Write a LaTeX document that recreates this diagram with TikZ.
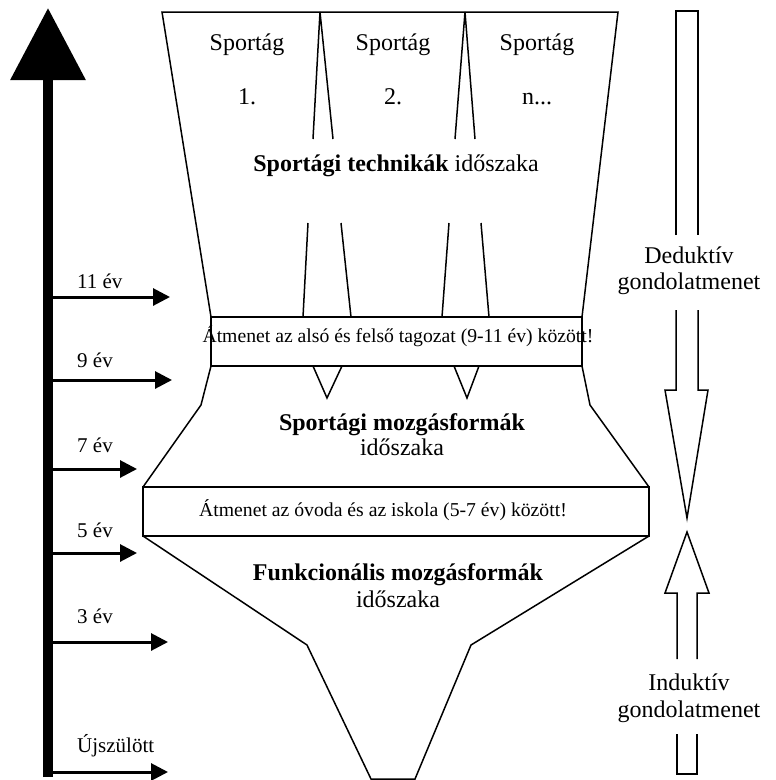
\documentclass[tikz,border=0pt]{standalone}
\usepackage{fontspec}
\setmainfont{Liberation Serif}
\usetikzlibrary{arrows.meta}

\begin{document}
\begin{tikzpicture}[x=1pt,y=-1pt,
  outline/.style={line width=1.5pt, line join=miter},
  bigtxt/.style={font=\fontsize{24}{26}\selectfont, inner sep=0pt, anchor=base},
  boxtxt/.style={font=\fontsize{19.7}{22}\selectfont, inner sep=0pt, anchor=base},
  agetxt/.style={font=\fontsize{21}{23}\selectfont, inner sep=0pt, anchor=base west},
  agearrow/.style={line width=3pt, -{Triangle[length=17pt,width=17pt]}},
  axisarrow/.style={line width=10pt, -{Triangle[length=72pt,width=73pt]}},
]
\useasboundingbox (0,0) rectangle (776,780);

% ---- time axis ----
\coordinate (axbot) at (48,777);
\coordinate (axtop) at (48,8);
\draw[axisarrow] (axbot) -- (axtop);

% age markers: name / y / tip x / label
\foreach \n/\y/\tx/\lab/\ly in {a11/297/170/11 év/288, a9/380/172/9 év/367, a7/469/137/7 év/452,
                               a5/553/137/5 év/537, a3/642/168/3 év/623, a0/772/168/Újszülött/752}{
  \coordinate (\n s) at (48,\y);
  \coordinate (\n t) at (\tx,\y);
  \draw[agearrow] (\n s) -- (\n t);
  \node[agetxt] (\n l) at (77,\ly) {\lab};
}

% ---- top section: sport techniques ----
\draw[outline] (162,12) -- (618,12) -- (582,317) -- (211,317) -- cycle;
% dividers between the sports (broken where the title runs through)
\draw[outline] (313,139) -- (320,12) -- (333,139);
\draw[outline] (308,223) -- (303,317);
\draw[outline] (341,223) -- (351,317);
\draw[outline] (455,139) -- (465,12) -- (475,139);
\draw[outline] (449,223) -- (442,317);
\draw[outline] (481,223) -- (489,317);

\node[bigtxt] (s1) at (247,50) {Sportág};
\node[bigtxt] (s2) at (393,50) {Sportág};
\node[bigtxt] (s3) at (537,50) {Sportág};
\node[bigtxt] (n1) at (247,104) {1.};
\node[bigtxt] (n2) at (393,104) {2.};
\node[bigtxt] (n3) at (537,104) {n...};
\node[bigtxt] (tech) at (396,171) {\textbf{Sportági technikák} időszaka};

% ---- transition 9-11 ----
\draw[outline] (211,317) rectangle (582,366);
\node[boxtxt] (tr1) at (398,342) {Átmenet az alsó és felső tagozat (9-11 év) között!};

% ---- middle section ----
\draw[outline] (211,366) -- (201,405) -- (143,487);
\draw[outline] (582,366) -- (590,405) -- (649,487);
\draw[outline] (313,366) -- (327,398) -- (342,366);
\draw[outline] (454,366) -- (467,398) -- (479,366);
\node[bigtxt] (mid1) at (402,430) {\textbf{Sportági mozgásformák}};
\node[bigtxt] (mid2) at (402,455) {időszaka};

% ---- transition 5-7 ----
\draw[outline] (143,487) rectangle (649,536);
\node[boxtxt] (tr2) at (383,516) {Átmenet az óvoda és az iskola (5-7 év) között!};

% ---- bottom section ----
\draw[outline] (143,536) -- (307,645) -- (371,779) -- (415,779) -- (471,645) -- (649,536);
\node[bigtxt] (fun1) at (398,580) {\textbf{Funkcionális mozgásformák}};
\node[bigtxt] (fun2) at (398,607) {időszaka};

% ---- deductive hollow arrow (downwards) ----
\draw[outline] (676,235) -- (676,11) -- (698,11) -- (698,235);
\draw[outline] (676,310) -- (676,390) -- (665,390) -- (687,518) -- (708,390) -- (698,390) -- (698,310);
\node[bigtxt] (ded1) at (689,263) {Deduktív};
\node[bigtxt] (ded2) at (689,289) {gondolatmenet};

% ---- inductive hollow arrow (upwards) ----
\draw[outline] (677,659) -- (677,593) -- (665,593) -- (687,532) -- (709,593) -- (697,593) -- (697,659);
\draw[outline] (677,734) -- (677,774) -- (697,774) -- (697,734);
\node[bigtxt] (ind1) at (689,690) {Induktív};
\node[bigtxt] (ind2) at (689,717) {gondolatmenet};
\end{tikzpicture}
\end{document}
